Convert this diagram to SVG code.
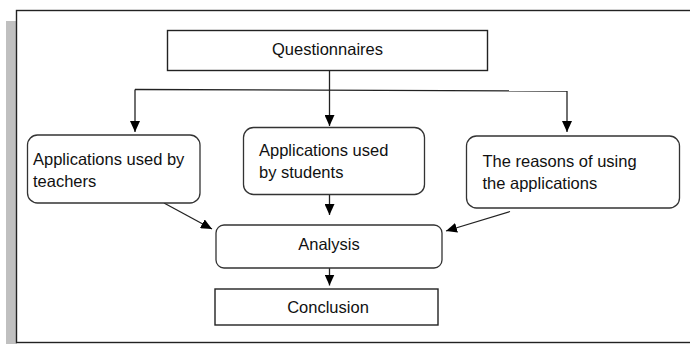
<svg xmlns="http://www.w3.org/2000/svg" width="690" height="344" viewBox="0 0 690 344">
<style>
.box{fill:#fff;stroke:#222;stroke-width:1.4}
.rbox{fill:#fff;stroke:#333;stroke-width:1.3}
.t{font-family:"Liberation Sans",Arial,sans-serif;font-size:16.5px;fill:#111}
.c{text-anchor:middle}
.ln{fill:none;stroke:#222;stroke-width:1.3}
</style>
<defs>
<marker id="ah" markerUnits="userSpaceOnUse" markerWidth="12" markerHeight="10" refX="11" refY="5" orient="auto">
<path d="M0,0 L11,5 L0,10 Z" fill="#000"/>
</marker>
</defs>
<rect x="6" y="21" width="11" height="323" fill="#c0c0c0"/>
<rect x="16.5" y="10.5" width="700" height="332" fill="#fff" stroke="#222" stroke-width="1.4"/>
<g id="connectors">
<path class="ln" d="M135,89.5 L567,91"/>
<path class="ln" d="M135,89.5 V132" marker-end="url(#ah)"/>
<path class="ln" d="M329.5,70.5 V126" marker-end="url(#ah)"/>
<path class="ln" d="M567,91 V132" marker-end="url(#ah)"/>
<path class="ln" d="M164,203 L212,229" marker-end="url(#ah)"/>
<path class="ln" d="M329.5,194.5 V215" marker-end="url(#ah)"/>
<path class="ln" d="M510,211.5 L446,231" marker-end="url(#ah)"/>
<path class="ln" d="M329.5,268 V285.5" marker-end="url(#ah)"/>
</g>
<g id="questionnaires">
<rect class="box" x="167.5" y="30.5" width="320" height="40"/>
<text class="t c" x="327.5" y="55">Questionnaires</text>
</g>
<g id="teachers">
<rect class="rbox" x="27.5" y="135" width="172.5" height="68" rx="10"/>
<text class="t" x="33" y="165">Applications used by</text>
<text class="t" x="33" y="187">teachers</text>
</g>
<g id="students">
<rect class="rbox" x="243.5" y="127.5" width="181" height="67" rx="10"/>
<text class="t" x="259" y="156">Applications used</text>
<text class="t" x="259" y="177.5">by students</text>
</g>
<g id="reasons">
<rect class="rbox" x="466.5" y="136" width="213" height="72" rx="10"/>
<text class="t" x="482.5" y="167">The reasons of using</text>
<text class="t" x="482.5" y="189">the applications</text>
</g>
<g id="analysis">
<rect class="rbox" x="216" y="225" width="226" height="43" rx="8"/>
<text class="t c" x="329" y="250">Analysis</text>
</g>
<g id="conclusion">
<rect class="box" x="215" y="289" width="223" height="36"/>
<text class="t c" x="328" y="313">Conclusion</text>
</g>
</svg>
